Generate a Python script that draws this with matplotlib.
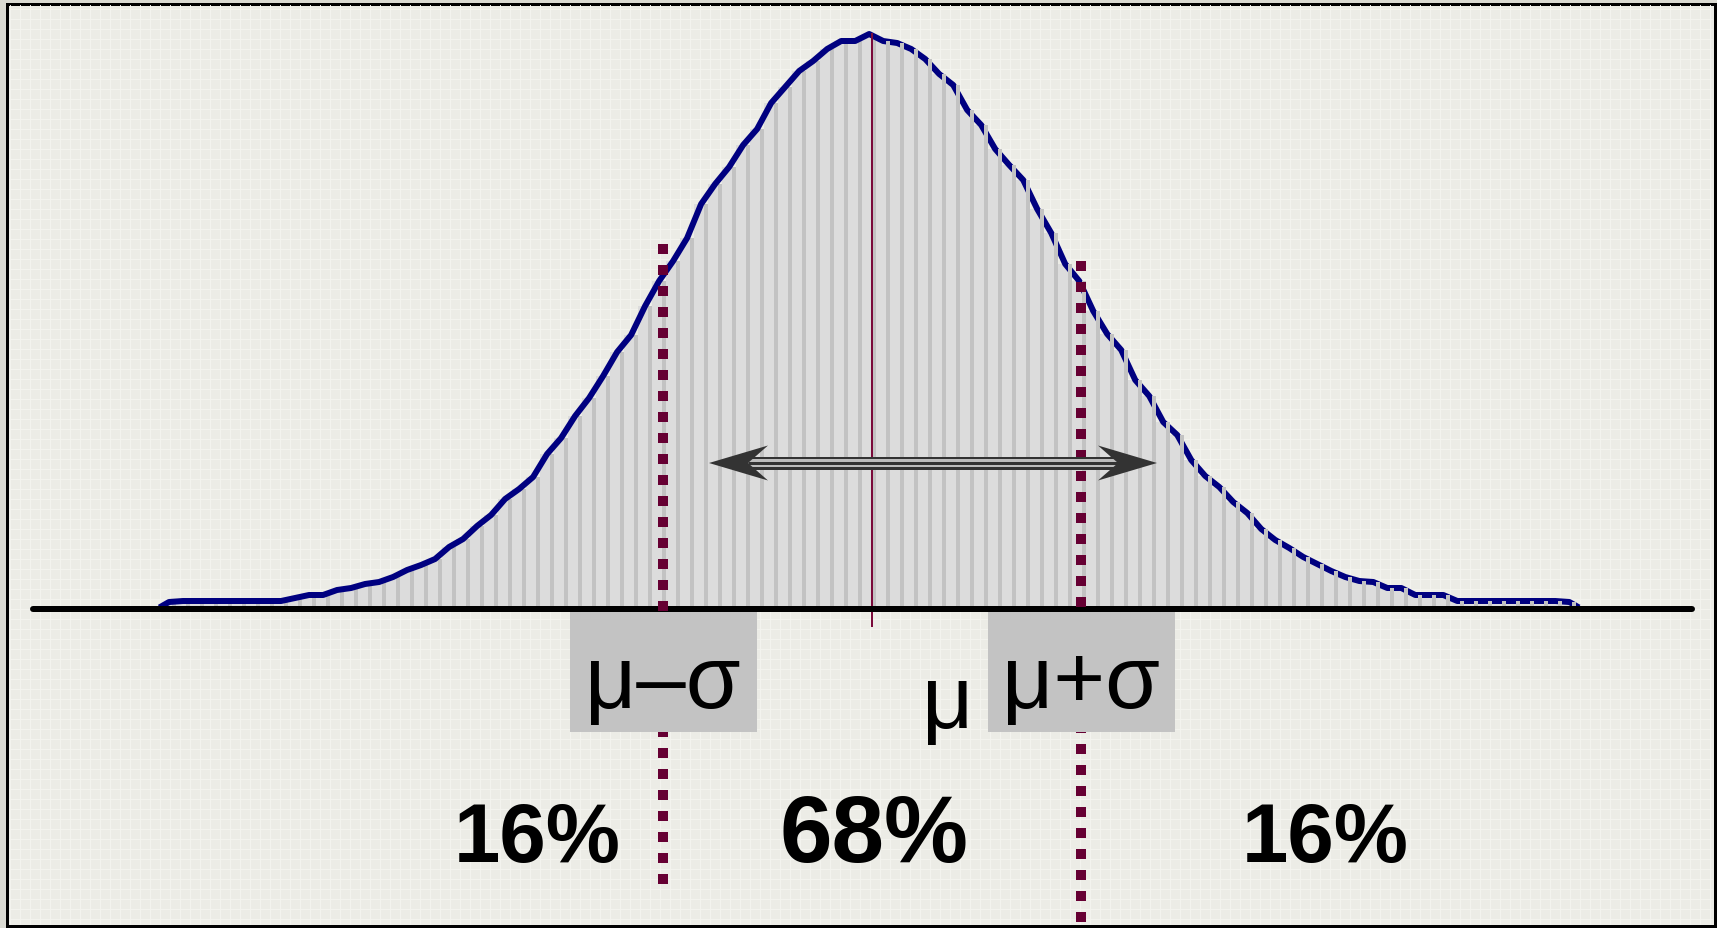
import numpy as np
import matplotlib.pyplot as plt
from matplotlib.patches import Rectangle, Polygon

# histogram counts (one per bin, left to right)
counts = [4, 5, 5, 5, 5, 5, 5, 5, 5, 8, 11, 11, 16, 18, 22, 24, 29, 36, 41, 47,
          59, 67, 80, 91, 107, 117, 129, 152, 168, 190, 208, 230, 254, 271, 300, 325, 345, 368, 402, 422,
          439, 461, 477, 503, 519, 535, 545, 557, 565, 565, 572, 565, 563, 557, 547, 532, 521, 496, 481, 457,
          441, 426, 397, 373, 342, 325, 295, 272, 256, 226, 210, 184, 171, 146, 130, 119, 104, 93, 77, 66,
          58, 49, 42, 35, 29, 25, 24, 18, 18, 11, 11, 11, 5, 5, 5, 5, 5, 5, 5, 5, 4]
bin_start = -3.397      # in units of sigma, mean = 0
bin_width = 0.067

box_labels = ['\u03bc\u2013\u03c3', '\u03bc+\u03c3']
box_pos = [-1, 1]
mean_label = '\u03bc'
pct_labels = ['16%', '68%', '16%']
pct_pos = [-1.60, 0.01, 2.17]
pct_sizes = [60, 68, 60]

W, H = 1717, 929
PX = 209.0   # pixels per sigma
fig = plt.figure(figsize=(W / 100, H / 100), dpi=100)
fig.patch.set_facecolor('#dadad2')
ax = fig.add_axes([0, 0, 1, 1])
ax.set_xlim(-872 / PX, (W - 872) / PX)
ax.set_ylim(607 - H, 607)
ax.axis('off')

def lw(px):
    return px * 72 / 100

# frame with light panel
frame = Rectangle((6.5 / W, 2 / H), (1715 - 6.5) / W, (926 - 3.5) / H, transform=fig.transFigure,
                  facecolor='#ecece6', edgecolor='black', linewidth=lw(3), zorder=0)
ax.add_patch(frame)
for gx in np.arange(10, W, 10):
    ax.plot([(gx - 872) / PX] * 2, [607 - 6, 607 - 925], color='#f4f4ef', lw=0.7, zorder=0.5)
for gy in np.arange(10, H, 10):
    ax.plot([(9 - 872) / PX, (1712 - 872) / PX], [607 - gy] * 2, color='#f4f4ef', lw=0.7, zorder=0.5)

counts = np.array(counts, dtype=float)
left = bin_start + bin_width * np.arange(len(counts))
centers = left + bin_width / 2
stripe = 4 / PX

# bars: dark stripe at each bin edge, light body
ax.bar(left, counts, width=bin_width, align='edge', color='#c2c2c2', zorder=2)
ax.bar(left, counts, width=bin_width - stripe, align='edge', color='#dcdcdc', zorder=2.1)

# outline
xs = np.concatenate([[left[0]], centers, [left[-1] + bin_width]])
ys = np.concatenate([[0], counts, [0]])
ax.plot(xs, ys, color='#000080', lw=lw(6), solid_joinstyle='round', zorder=3)

# on the right half the stripes sit over the outline
right = centers > 0.05
ax.bar(left[right] + bin_width - stripe, counts[right], width=stripe, align='edge',
       color='#c2c2c2', zorder=3.2)

# baseline
ax.plot([(33 - 872) / PX, (1692 - 872) / PX], [-3, -3], color='black', lw=lw(6),
        solid_capstyle='round', zorder=4)

# mean line
ax.plot([0, 0], [-20, counts.max()], color='#7a0a3a', lw=lw(2), zorder=3.5)

# sigma lines
ax.plot([-1, -1], [362, -288], color='#660033', lw=lw(10), linestyle=(0, (1, 1.1)),
        dash_capstyle='butt', zorder=4)
ax.plot([1, 1], [345, -330], color='#660033', lw=lw(10), linestyle=(0, (1, 1.1)),
        dash_capstyle='butt', zorder=4)

# double headed arrow
ay = 143
x1, x2 = (709 - 872) / PX, (1157 - 872) / PX
hl, hw, notch = 59 / PX, 17.5, 39 / PX
for w, c in [(13, '#333333'), (8, '#bdbdbd'), (3, '#333333')]:
    ax.plot([x1 + notch, x2 - notch], [ay, ay], color=c, lw=lw(w), solid_capstyle='butt', zorder=5)
ax.add_patch(Polygon([(x1, ay), (x1 + hl, ay + hw), (x1 + notch, ay), (x1 + hl, ay - hw)],
                     closed=True, facecolor='#333333', edgecolor='none', zorder=5.1))
ax.add_patch(Polygon([(x2, ay), (x2 - hl, ay + hw), (x2 - notch, ay), (x2 - hl, ay - hw)],
                     closed=True, facecolor='#333333', edgecolor='none', zorder=5.1))

# label boxes
bw = 187 / PX
for lab, p in zip(box_labels, box_pos):
    ax.add_patch(Rectangle((p - bw / 2, -126), bw, 120, facecolor='#c3c3c3', edgecolor='none', zorder=6))
    ax.text(p, -101, lab, ha='center', va='baseline', fontsize=64, family='Liberation Sans', zorder=7)

ax.text(0.36, -121, mean_label, ha='center', va='baseline', fontsize=64, family='Liberation Sans', zorder=7)

for lab, p, fs in zip(pct_labels, pct_pos, pct_sizes):
    ax.text(p, -255, lab, ha='center', va='baseline', fontsize=fs, fontweight='bold',
            family='Liberation Sans', zorder=7)

fig.savefig('out.png', dpi=100, facecolor=fig.get_facecolor())
